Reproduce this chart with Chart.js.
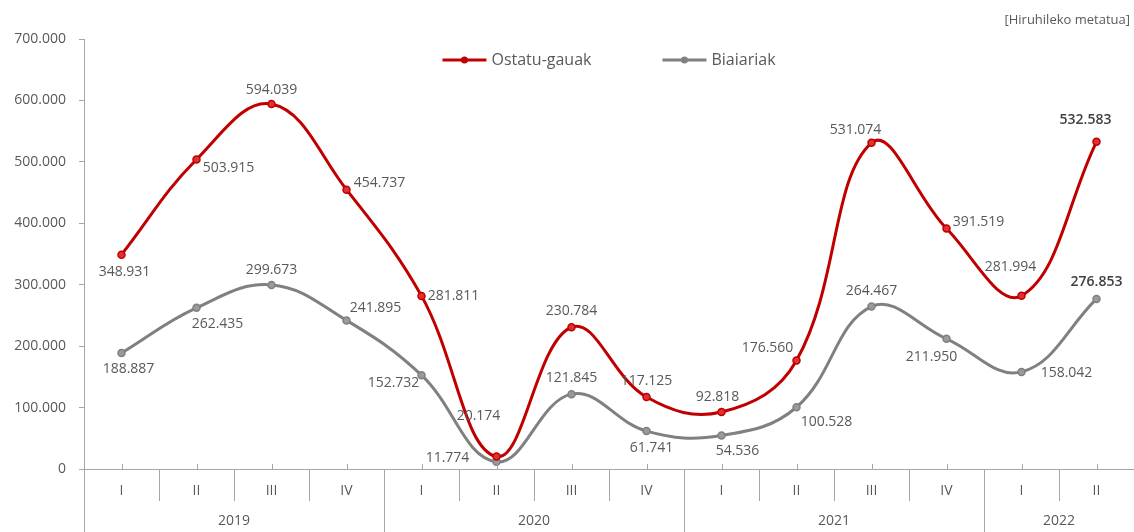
<!DOCTYPE html>
<html lang="eu">
<head>
    <meta charset="UTF-8">
    <title>Ostatu-gauak eta biaiariak</title>
    <script src="https://cdn.jsdelivr.net/npm/chart.js"></script>
    <style>
        body {
            margin: 0;
            background: #ffffff;
        }

        #wrap {
            width: 1134px;
            height: 532px;
        }
    </style>
</head>
<body>
    <div id="wrap">
        <canvas id="lineChart" width="1134" height="532"></canvas>
    </div>

    <script>
        // Datuak
        const quarters = ['I', 'II', 'III', 'IV', 'I', 'II', 'III', 'IV', 'I', 'II', 'III', 'IV', 'I', 'II'];
        const years = ['2019', '2019', '2019', '2019', '2020', '2020', '2020', '2020',
                       '2021', '2021', '2021', '2021', '2022', '2022'];
        const ostatuGauak = [348931, 503915, 594039, 454737, 281811, 20174, 230784, 117125,
                             92818, 176560, 531074, 391519, 281994, 532583];
        const biaiariak = [188887, 262435, 299673, 241895, 152732, 11774, 121845, 61741,
                           54536, 100528, 264467, 211950, 158042, 276853];
        const yTicks = [0, 100000, 200000, 300000, 400000, 500000, 600000, 700000];

        // Etiketen desplazamendua puntuarekiko [dx, dy]
        const redLabelOffsets = [[3, 17], [32, 9], [0, -14], [33, -7], [32, 0], [-18, -41], [0, -16],
                                 [0, -16], [-4, -15], [-29, -13], [-16, -13], [32, -6], [-11, -29], [-11, -22]];
        const grayLabelOffsets = [[7, 16], [21, 16], [0, -15], [29, -12], [-28, 8], [-49, -4], [0, -16],
                                  [5, 17], [16, 16], [30, 15], [0, -16], [-15, 18], [45, 1], [0, -17]];

        const FONT = '"Open Sans", "Noto Sans", sans-serif';
        const TEXT = '#595959';
        const AXIS = '#a6a6a6';
        const RED = '#c00000';
        const GRAY = '#808080';

        const fmt = v => v.toLocaleString('de-DE');

        // Etiketak, legenda eta kategoria-ardatza marrazteko plugina
        const extras = {
            id: 'extras',
            afterDatasetsDraw(chart) {
                const ctx = chart.ctx;
                const offsets = [redLabelOffsets, grayLabelOffsets];
                ctx.save();
                ctx.textAlign = 'center';
                ctx.textBaseline = 'middle';
                chart.data.datasets.forEach((ds, di) => {
                    const meta = chart.getDatasetMeta(di);
                    meta.data.forEach((pt, i) => {
                        const off = offsets[di][i];
                        const last = i === ds.data.length - 1;
                        ctx.font = (last ? '600 ' : '') + '14px ' + FONT;
                        ctx.fillStyle = last ? '#404040' : TEXT;
                        ctx.fillText(fmt(ds.data[i]), pt.x + off[0], pt.y + off[1]);
                    });
                });
                ctx.restore();
            },
            afterDraw(chart) {
                const ctx = chart.ctx;
                const area = chart.chartArea;
                const x = chart.scales.x;
                const n = quarters.length;
                const step = x.getPixelForValue(1) - x.getPixelForValue(0);
                ctx.save();

                // tick txikiak
                ctx.strokeStyle = AXIS;
                ctx.lineWidth = 1;
                for (let i = 0; i < n; i++) {
                    const px = Math.round(x.getPixelForValue(i)) + 0.5;
                    ctx.beginPath();
                    ctx.moveTo(px, area.bottom - 5);
                    ctx.lineTo(px, area.bottom);
                    ctx.stroke();
                }

                // bereizleak
                for (let i = 0; i < n; i++) {
                    const px = Math.round(x.getPixelForValue(i) - step / 2) + 0.5;
                    const yearEdge = i === 0 || years[i] !== years[i - 1];
                    ctx.beginPath();
                    ctx.moveTo(px, area.bottom);
                    ctx.lineTo(px, yearEdge ? 532 : area.bottom + 32);
                    ctx.stroke();
                }

                // hiruhilekoak
                ctx.fillStyle = TEXT;
                ctx.font = '14px ' + FONT;
                ctx.textAlign = 'center';
                ctx.textBaseline = 'middle';
                quarters.forEach((q, i) => {
                    ctx.fillText(q, x.getPixelForValue(i), area.bottom + 22);
                });

                // urteak
                let start = 0;
                for (let i = 1; i <= n; i++) {
                    if (i === n || years[i] !== years[start]) {
                        const left = x.getPixelForValue(start) - step / 2;
                        const right = x.getPixelForValue(i - 1) + step / 2;
                        ctx.fillText(years[start], (left + right) / 2, area.bottom + 52);
                        start = i;
                    }
                }

                // legenda
                ctx.font = '16px ' + FONT;
                ctx.textAlign = 'left';
                const lineW = 44, gapText = 5, gapItem = 71;
                const items = chart.data.datasets.map(ds => ({
                    label: ds.label, color: ds.borderColor, w: lineW + gapText + ctx.measureText(ds.label).width
                }));
                const total = items.reduce((s, it) => s + it.w, 0) + gapItem * (items.length - 1);
                let lx = (area.left + area.right) / 2 - total / 2;
                const ly = 60;
                items.forEach(it => {
                    ctx.strokeStyle = it.color;
                    ctx.lineWidth = 3;
                    ctx.beginPath();
                    ctx.moveTo(lx, ly);
                    ctx.lineTo(lx + lineW, ly);
                    ctx.stroke();
                    ctx.fillStyle = it.color;
                    ctx.beginPath();
                    ctx.arc(lx + lineW / 2, ly, 3.5, 0, Math.PI * 2);
                    ctx.fill();
                    ctx.fillStyle = TEXT;
                    ctx.fillText(it.label, lx + lineW + gapText, ly);
                    lx += it.w + gapItem;
                });

                // azpititulua
                ctx.font = '13px ' + FONT;
                ctx.textAlign = 'right';
                ctx.fillText('[Hiruhileko metatua]', 1130, 20);
                ctx.restore();
            }
        };

        const ctx = document.getElementById('lineChart').getContext('2d');
        const myChart = new Chart(ctx, {
            type: 'line',
            data: {
                labels: quarters,
                datasets: [{
                    label: 'Ostatu-gauak',
                    data: ostatuGauak,
                    borderColor: RED,
                    backgroundColor: RED,
                    pointBackgroundColor: '#e03030',
                    pointBorderColor: RED,
                    borderWidth: 3,
                    pointRadius: 3.5,
                    pointBorderWidth: 1.5,
                    tension: 0.4
                }, {
                    label: 'Biaiariak',
                    data: biaiariak,
                    borderColor: GRAY,
                    backgroundColor: GRAY,
                    pointBackgroundColor: '#9a9a9a',
                    pointBorderColor: GRAY,
                    borderWidth: 3,
                    pointRadius: 3.5,
                    pointBorderWidth: 1.5,
                    tension: 0.4
                }]
            },
            options: {
                responsive: false,
                animation: false,
                layout: {
                    autoPadding: false,
                    padding: { top: 39, right: 0, bottom: 0, left: 0 }
                },
                plugins: {
                    legend: { display: false },
                    tooltip: { enabled: false }
                },
                scales: {
                    x: {
                        offset: true,
                        grid: { display: false },
                        border: { display: true, color: AXIS, width: 1 },
                        ticks: { display: false },
                        afterFit: scale => { scale.height = 63; }
                    },
                    y: {
                        min: 0,
                        max: 700000,
                        afterBuildTicks: scale => {
                            scale.ticks = yTicks.map(v => ({ value: v }));
                        },
                        grid: {
                            drawOnChartArea: false,
                            drawTicks: true,
                            tickLength: 5,
                            color: AXIS
                        },
                        border: { display: true, color: AXIS, width: 1 },
                        ticks: {
                            color: TEXT,
                            font: { family: FONT, size: 14 },
                            padding: 13,
                            callback: v => fmt(v)
                        },
                        afterFit: scale => { scale.width = 84; }
                    }
                }
            },
            plugins: [extras]
        });
    </script>
</body>
</html>
